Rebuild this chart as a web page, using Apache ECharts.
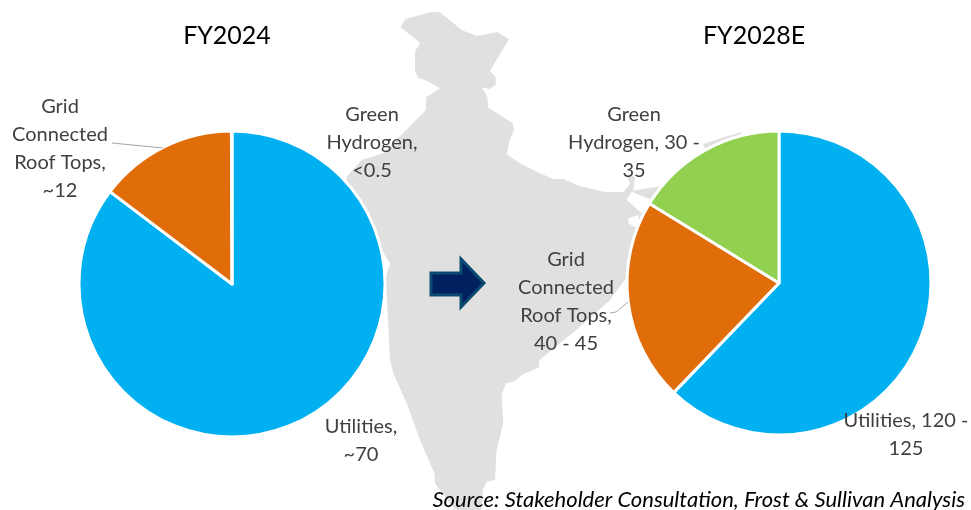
<!DOCTYPE html>
<html><head><meta charset="utf-8">
<style>html,body{margin:0;padding:0;background:#fff}#c{width:971px;height:510px}</style>
<script src="https://cdn.jsdelivr.net/npm/echarts@6/dist/echarts.min.js"></script>
</head><body><div id="c"></div>
<script>
const categories = ['Utilities', 'Grid Connected Roof Tops', 'Green Hydrogen'];
const colors = ['#00B0F0', '#E06C0A', '#92D050'];
const fy2024Values = [70, 12, 0.05];
const fy2028Values = [122.5, 42.5, 32];
const fy2024Labels = ['Utilities,\n~70', 'Grid\nConnected\nRoof Tops,\n~12', 'Green\nHydrogen,\n<0.5'];
const fy2028Labels = ['Utilities, 120 -\n125', 'Grid\nConnected\nRoof Tops,\n40 - 45', 'Green\nHydrogen, 30 -\n35'];
const titles = ['FY2024', 'FY2028E'];
const source = 'Source: Stakeholder Consultation, Frost & Sullivan Analysis';

const FONT = 'Lato, "Open Sans", sans-serif';
const z1 = p => [340 + p[0] / 3, p[1] / 3];
const z2 = p => [340 + p[0] / 3, 250 + p[1] / 3];
const indiaShape = [
  ...[[182,82],[195,58],[240,45],[275,35],[300,37],[335,65],[365,90],[410,108],[472,96],[507,118],[450,212],[467,232],[467,255],[447,267],[425,262],[442,290],[445,323],[480,345],[518,370],[522,390],[508,425],[500,463],[540,490],[590,515],[640,537],[670,537],[720,558],[790,575],[850,577],[870,552],[860,525],[885,530],[880,572],[950,560]].map(z1),
  [690,190],[710,160],[703,144],[728,136],[741,132],[760,200],[700,270],
  ...[[865,75],[810,150],[715,235],[598,330],[597,352],[545,375],[525,393],[498,400],[485,435],[490,520],[470,600],[465,690],[440,695],[428,720],[425,780]].map(z2),
  [480,510],[440,510],
  ...[[345,780],[285,700],[283,670],[240,570],[200,460],[160,370],[150,330],[140,130],[135,90],[150,40],[125,0]].map(z2),
  [350,210],
  ...[[20,530],[65,480],[130,460],[258,330],[258,292],[300,265],[255,240],[235,235],[225,210],[225,155],[240,128]].map(z1)
];
const indiaHoles = [
  [[860,600],[875,575],[935,600],[905,640]].map(z1),
  [[865,655],[895,645],[900,690],[865,670]].map(z1)
];
const arrow = [[431,273],[461,273],[461,259],[484,283],[461,307],[461,295],[431,295]];
const leaderLines = [[[112,143],[163,148]], [[628,302],[616,312],[610,313]]];

function pie(center, radius, values) {
  return {
    type: 'pie', center, radius, startAngle: 90, clockwise: true, silent: true,
    animation: false, avoidLabelOverlap: false,
    itemStyle: { borderColor: '#fff', borderWidth: 3 },
    label: { show: false }, labelLine: { show: false },
    data: categories.map((name, i) => ({ name, value: values[i], itemStyle: { color: colors[i] } }))
  };
}
function labelText(text, x, y) {
  return { type: 'text', z: 20, silent: true, style: { text, x, y, align: 'center', verticalAlign: 'middle', fontFamily: FONT, fontSize: 20, lineHeight: 28, fill: '#404040' } };
}
const chart = echarts.init(document.getElementById('c'), null, { renderer: 'canvas' });
chart.setOption({
  backgroundColor: '#fff',
  animation: false,
  title: [
    { text: titles[0], left: 222, top: 18, textAlign: 'center', textStyle: { fontFamily: FONT, fontSize: 25, fontWeight: 'normal', color: '#000' } },
    { text: titles[1], left: 749, top: 18, textAlign: 'center', textStyle: { fontFamily: FONT, fontSize: 25, fontWeight: 'normal', color: '#000' } }
  ],
  graphic: [
    { type: 'polygon', z: -10, silent: true, shape: { points: indiaShape }, style: { fill: '#E0E0E0' } },
    ...indiaHoles.map(points => ({ type: 'polygon', z: -9, silent: true, shape: { points }, style: { fill: '#fff' } })),
    { type: 'polygon', z: -8, silent: true, shape: { points: arrow }, style: { fill: '#002060', stroke: '#0A4A70', lineWidth: 3 } },
    ...leaderLines.map(points => ({ type: 'polyline', z: 15, silent: true, shape: { points }, style: { stroke: '#A6A6A6', lineWidth: 1, fill: 'none' } })),
    labelText(fy2024Labels[0], 361, 441),
    labelText(fy2024Labels[1], 60, 149),
    labelText(fy2024Labels[2], 372, 143),
    labelText(fy2028Labels[0], 906, 435),
    labelText(fy2028Labels[1], 566, 302),
    labelText(fy2028Labels[2], 634, 143),
    { type: 'text', z: 20, silent: true, style: { text: source, x: 965, y: 500, align: 'right', verticalAlign: 'middle', fontFamily: FONT, fontStyle: 'italic', fontSize: 22, fill: '#000' } }
  ],
  series: [
    pie([232, 284], 153, fy2024Values),
    pie([779, 283], 152, fy2028Values)
  ]
});
</script></body></html>
